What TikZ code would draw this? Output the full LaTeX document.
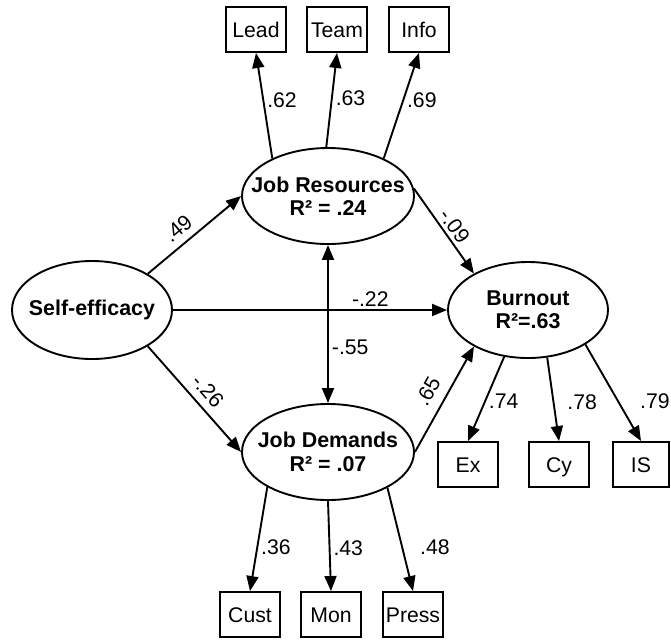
\documentclass[tikz,border=0pt]{standalone}
\usepackage{fontspec}
\setmainfont{Liberation Sans}
\usetikzlibrary{arrows.meta,shapes.geometric}

\tikzset{
  latent/.style={ellipse, draw, inner sep=0pt},
  latname/.style={font=\fontsize{10.7}{11.7}\selectfont\bfseries, align=center, inner sep=0pt},
  indic/.style={rectangle, draw, minimum width=30pt, minimum height=22.5pt, inner sep=0pt, text height=7.5pt, text depth=0pt},
  coef/.style={inner sep=1.5pt}
}

\begin{document}
\begin{tikzpicture}[x=0.5pt, y=-0.5pt, line width=0.95pt, >={Triangle[length=7.5pt,width=6pt]}, font=\fontsize{10.6}{12}\selectfont]
  \useasboundingbox (0,0) rectangle (671,639);
  % latent variables
  \node[latent, minimum width=80pt, minimum height=49pt, label={[latname]center:Self-efficacy}] (se) at (92,310) {};
  \node[latent, minimum width=86pt, minimum height=48pt, label={[latname]center:{Job Resources\\R² = .24}}] (jr) at (328,196) {};
  \node[latent, minimum width=80pt, minimum height=48pt, label={[latname]center:{Burnout\\R²=.63}}] (bo) at (528,310) {};
  \node[latent, minimum width=86pt, minimum height=48pt, label={[latname]center:{Job Demands\\R² = .07}}] (jd) at (328,452) {};
  % indicators
  \node[indic] (lead) at (256,29.5) {Lead};
  \node[indic] (team) at (337,29.5) {Team};
  \node[indic] (info) at (419,29.5) {Info};
  \node[indic] (ex) at (468,464.5) {Ex};
  \node[indic] (cy) at (559,464.5) {Cy};
  \node[indic, minimum width=28pt] (is) at (641,464.5) {IS};
  \node[indic] (cust) at (250,614.5) {Cust};
  \node[indic] (mon) at (331,614.5) {Mon};
  \node[indic] (press) at (413,614.5) {Press};

  \path[->]
  (se.33) edge node[coef, pos=.43, above=2pt, sloped] {.49} (jr.west)
  (se.-33) edge node[coef, pos=.52, above=2pt, sloped] {-.26} (jd.west)
  (se.east) edge node[coef, pos=.72, above] {-.22} (bo.west)
  (jr.5) edge node[coef, pos=.52, above, sloped] {-.09} (bo.146)
  (jd.east) edge node[coef, pos=.49, above=3.5pt, sloped] {.65} (bo.214)
  (jr.146) edge node[coef, pos=.55, right] {.62} (lead.south)
  (jr.92) edge node[coef, pos=.52, right] {.63} (team.south)
  (jr.34) edge node[coef, pos=.55, right] {.69} (info.south)
  (bo.-117) edge node[coef, pos=.53, right] {.74} (ex.north)
  (bo.-68) edge node[coef, pos=.53, right=5pt] {.78} (cy.north)
  (bo.-31) edge node[coef, pos=.59, right=9pt] {.79} (is.north)
  (jd.-150) edge node[coef, pos=.58, right=0pt] {.36} (cust.north)
  (jd.south) edge node[coef, pos=.52, right] {.43} (mon.north)
  (jd.-31) edge node[coef, pos=.58, right=7pt] {.48} (press.north);
  \path[<->]
  (jr.south) edge node[coef, pos=.65, right] {-.55} (jd.north);
\end{tikzpicture}
\end{document}
